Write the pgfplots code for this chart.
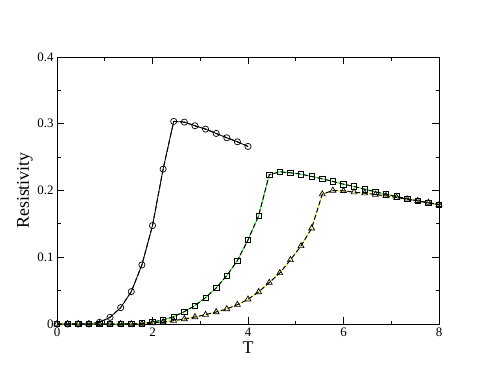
\documentclass[border=0pt]{standalone}
\usepackage{fontspec}
\setmainfont{Liberation Serif}
\usepackage{pgfplots}
\usepackage{pgfplotstable}
\pgfplotsset{compat=1.18}
\usetikzlibrary{calc}

% circles
\pgfplotstableread{
T rho
0      0
0.2222 0
0.4444 0
0.6667 0
0.8889 0.0025
1.1111 0.010
1.3333 0.0245
1.5556 0.0485
1.7778 0.0885
2.0    0.1475
2.2222 0.232
2.4444 0.3035
2.6667 0.3025
2.8889 0.297
3.1111 0.292
3.3333 0.2855
3.5556 0.279
3.7778 0.273
4.0    0.266
}\circdata

% squares
\pgfplotstableread{
T rho
0      0
0.2222 0
0.4444 0
0.6667 0
0.8889 0
1.1111 0
1.3333 0
1.5556 0.0005
1.7778 0.001
2.0    0.003
2.2222 0.006
2.4444 0.011
2.6667 0.0185
2.8889 0.0275
3.1111 0.0395
3.3333 0.054
3.5556 0.0725
3.7778 0.095
4.0    0.126
4.2222 0.162
4.4444 0.2235
4.6667 0.228
4.8889 0.2265
5.1111 0.2245
5.3333 0.221
5.5556 0.2175
5.7778 0.2135
6.0    0.2095
6.2222 0.206
6.4444 0.202
6.6667 0.198
6.8889 0.1945
7.1111 0.191
7.3333 0.1875
7.5556 0.1845
7.7778 0.1815
8.0    0.1785
}\sqdata

% triangles
\pgfplotstableread{
T rho
0      0
0.2222 0
0.4444 0
0.6667 0
0.8889 0
1.1111 0
1.3333 0
1.5556 0
1.7778 0
2.0    0.0015
2.2222 0.003
2.4444 0.005
2.6667 0.0075
2.8889 0.0105
3.1111 0.014
3.3333 0.018
3.5556 0.0225
3.7778 0.029
4.0    0.037
4.2222 0.048
4.4444 0.062
4.6667 0.0765
4.8889 0.096
5.1111 0.117
5.3333 0.1435
5.5556 0.1945
5.7778 0.200
6.0    0.1995
6.2222 0.1975
6.4444 0.196
6.6667 0.194
6.8889 0.192
7.1111 0.1895
7.3333 0.187
7.5556 0.1845
7.7778 0.182
8.0    0.1785
}\tridata

\begin{document}
\begin{tikzpicture}
\begin{axis}[
    scale only axis,
    width=382bp, height=267bp,
    xmin=0, xmax=8, ymin=0, ymax=0.4,
    xtick={0,2,4,6,8},
    ytick={0,0.1,0.2,0.3,0.4},
    minor x tick num=1,
    minor y tick num=1,
    tick align=inside,
    major tick length=7bp,
    minor tick length=3.5bp,
    tick style={black, line width=0.8pt},
    axis line style={line width=0.8pt},
    scaled y ticks=false,
    /pgf/number format/assume math mode=true,
    ticklabel style={font=\fontsize{13}{13}\selectfont},
    xlabel={T},
    ylabel={Resistivity},
    label style={font=\fontsize{18}{18}\selectfont},
    xlabel style={at={(axis description cs:0.5,-0.09)}, anchor=center},
    ylabel style={at={(axis description cs:-0.084,0.5)}, anchor=center},
]
  % solid under-lines
  \addplot[black, line width=0.8pt, no markers] table[x=T, y=rho] {\circdata};
  \addplot[green, line width=0.8pt, no markers] table[x=T, y=rho] {\sqdata};
  \addplot[yellow, line width=0.8pt, no markers] table[x=T, y=rho] {\tridata};
  % dashed black lines with symbols
  \addplot[black, line width=1pt, dash pattern=on 5bp off 2.5bp,
           mark=o, mark size=3.1bp, mark options={solid, line width=0.7pt}]
           table[x=T, y=rho] {\circdata};
  \addplot[black, line width=1pt, dash pattern=on 5bp off 2.5bp,
           mark=square, mark size=2.7bp, mark options={solid, line width=0.7pt}]
           table[x=T, y=rho] {\sqdata};
  \addplot[black, line width=1pt, dash pattern=on 5bp off 2.5bp,
           mark=triangle, mark size=3.4bp, mark options={solid, line width=0.7pt}]
           table[x=T, y=rho] {\tridata};
\end{axis}
\pgfresetboundingbox
\path ($(current axis.south west)+(-57bp,-58bp)$) rectangle ($(current axis.north east)+(55bp,57bp)$);
\end{tikzpicture}
\end{document}
